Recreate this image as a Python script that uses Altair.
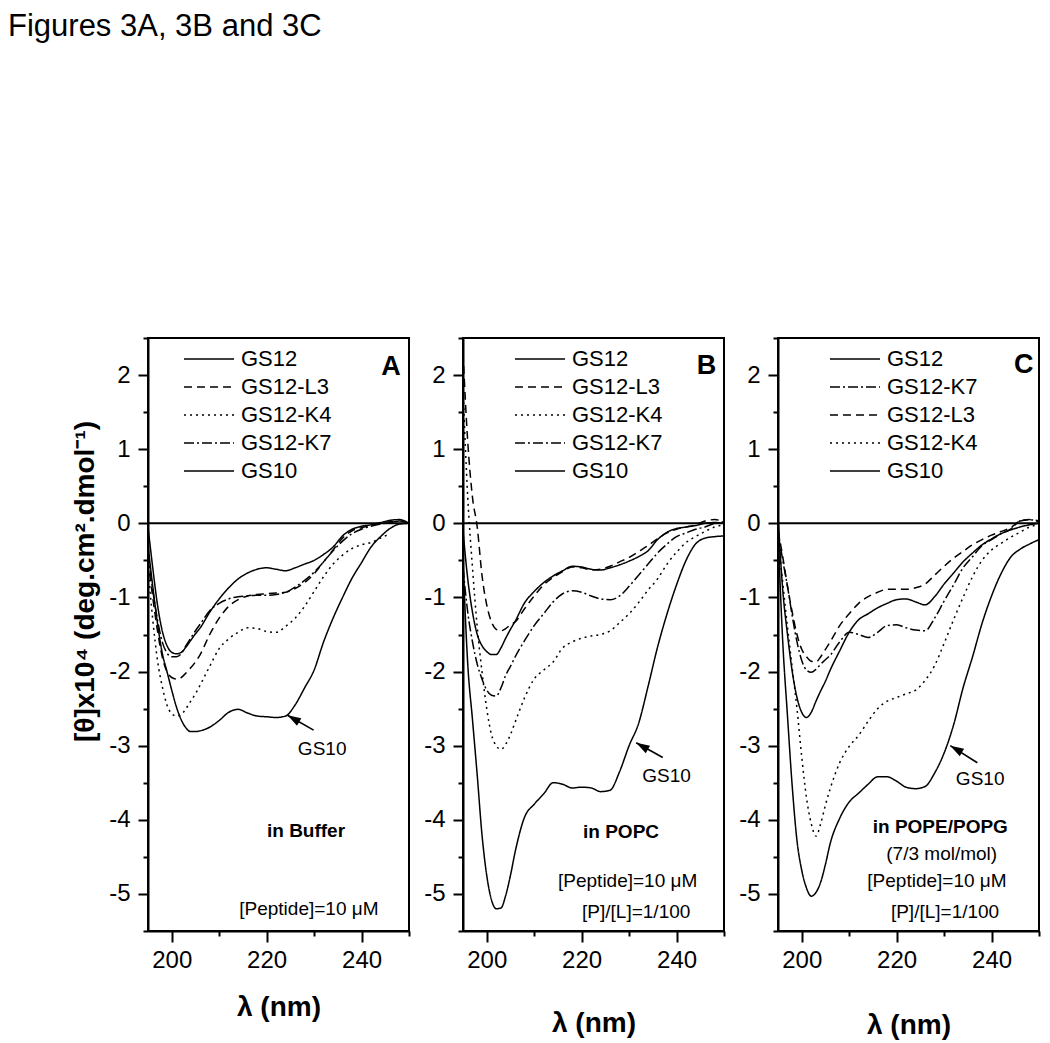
import altair as alt
import pandas as pd

FONT = "Liberation Sans"

# wavelength grid (nm) shared by all curves
WL = [195, 196, 197, 198, 199, 200, 201, 202, 203, 204, 205, 206, 208, 210, 212, 214, 216,
      218, 220, 222, 224, 226, 228, 230, 232, 234, 236, 238, 240, 242, 244, 246, 248, 250]

# Panel A: in Buffer
A_GS12 = [-0.05, -0.6, -1.1, -1.45, -1.65, -1.74, -1.76, -1.74, -1.67, -1.58, -1.49, -1.41,
          -1.2, -1.02, -0.87, -0.75, -0.67, -0.62, -0.6, -0.62, -0.64, -0.6, -0.55, -0.5, -0.42,
          -0.32, -0.17, -0.08, -0.04, -0.02, 0.01, 0.04, 0.05, 0.0]
A_L3 = [-0.5, -1.0, -1.45, -1.8, -2.0, -2.08, -2.1, -2.08, -2.02, -1.95, -1.87, -1.77,
        -1.5, -1.28, -1.12, -1.03, -0.98, -0.96, -0.95, -0.94, -0.93, -0.88, -0.8, -0.68, -0.52,
        -0.36, -0.2, -0.1, -0.06, -0.03, 0.0, 0.02, 0.03, 0.0]
A_K4 = [-0.6, -1.3, -1.85, -2.2, -2.45, -2.57, -2.6, -2.58, -2.5, -2.4, -2.3, -2.18,
        -1.93, -1.69, -1.56, -1.47, -1.41, -1.42, -1.46, -1.47, -1.39, -1.28, -1.12, -0.92, -0.72,
        -0.55, -0.43, -0.34, -0.29, -0.26, -0.2, -0.14, None, None]
A_K7 = [-0.4, -0.9, -1.3, -1.6, -1.75, -1.8, -1.8, -1.76, -1.65, -1.55, -1.45, -1.36,
        -1.18, -1.08, -1.02, -0.99, -0.98, -0.97, -0.97, -0.96, -0.93, -0.86, -0.77, -0.66, -0.52,
        -0.37, -0.24, -0.14, -0.08, -0.04, -0.01, 0.01, 0.03, 0.0]
A_GS10 = [-0.3, -0.85, -1.35, -1.75, -2.0, -2.25, -2.48, -2.65, -2.76, -2.81, -2.81, -2.8,
          -2.75, -2.66, -2.55, -2.51, -2.56, -2.6, -2.61, -2.62, -2.6, -2.45, -2.22, -1.98, -1.6,
          -1.28, -1.0, -0.74, -0.53, -0.32, -0.18, -0.07, -0.01, 0.0]

# Panel B: in POPC
B_GS12 = [-0.1, -0.75, -1.2, -1.5, -1.65, -1.73, -1.77, -1.77, -1.68, -1.55, -1.43, -1.32,
          -1.07, -0.92, -0.8, -0.71, -0.64, -0.58, -0.59, -0.62, -0.63, -0.6, -0.56, -0.51, -0.45,
          -0.37, -0.22, -0.12, -0.07, -0.05, -0.03, 0.0, 0.01, 0.0]
B_L3 = [2.3, 1.1, 0.35, -0.05, -0.7, -1.1, -1.33, -1.43, -1.45, -1.42, -1.37, -1.33,
        -1.15, -0.98, -0.83, -0.73, -0.65, -0.59, -0.6, -0.63, -0.62, -0.58, -0.52, -0.46, -0.38,
        -0.3, -0.21, -0.13, -0.08, -0.05, -0.02, 0.03, 0.05, 0.02]
B_K4 = [1.8, 0.35, -0.6, -1.4, -2.0, -2.5, -2.85, -3.0, -3.05, -2.98, -2.85, -2.68,
        -2.35, -2.1, -1.98, -1.87, -1.68, -1.6, -1.55, -1.52, -1.5, -1.45, -1.34, -1.22, -1.07,
        -0.9, -0.75, -0.55, -0.39, -0.26, -0.18, -0.11, -0.05, -0.02]
B_K7 = [-0.6, -1.2, -1.6, -1.9, -2.1, -2.25, -2.32, -2.33, -2.22, -2.05, -1.93, -1.8,
        -1.58, -1.38, -1.22, -1.06, -0.95, -0.91, -0.93, -0.98, -1.02, -1.03, -0.98, -0.85, -0.7,
        -0.55, -0.4, -0.28, -0.18, -0.13, -0.08, -0.05, 0.0, 0.02]
B_GS10 = [-0.5, -1.9, -2.65, -3.4, -4.2, -4.75, -5.08, -5.2, -5.19, -5.02, -4.75, -4.43,
          -3.96, -3.79, -3.65, -3.5, -3.52, -3.57, -3.56, -3.57, -3.62, -3.6, -3.35, -3.0, -2.7,
          -2.2, -1.67, -1.22, -0.83, -0.5, -0.28, -0.2, -0.18, -0.17]

# Panel C: in POPE/POPG
C_GS12 = [0.1, -0.9, -1.5, -2.0, -2.35, -2.55, -2.62, -2.55, -2.4, -2.26, -2.13, -1.98,
          -1.72, -1.47, -1.3, -1.22, -1.14, -1.08, -1.03, -1.02, -1.06, -1.1, -0.99, -0.82, -0.67,
          -0.52, -0.4, -0.29, -0.21, -0.14, -0.09, -0.05, -0.02, 0.0]
C_K7 = [-0.1, -0.5, -0.85, -1.25, -1.6, -1.85, -1.98, -2.01, -1.97, -1.9, -1.84, -1.78,
        -1.6, -1.47, -1.5, -1.54, -1.47, -1.38, -1.37, -1.41, -1.44, -1.45, -1.28, -1.05, -0.83,
        -0.6, -0.45, -0.3, -0.22, -0.14, -0.08, 0.03, 0.05, 0.02]
C_L3 = [-0.1, -0.45, -0.85, -1.2, -1.5, -1.7, -1.8, -1.86, -1.87, -1.8, -1.7, -1.6,
        -1.38, -1.22, -1.08, -0.99, -0.93, -0.89, -0.89, -0.89, -0.87, -0.82, -0.7, -0.58, -0.47,
        -0.38, -0.29, -0.22, -0.16, -0.11, -0.06, 0.03, 0.05, 0.03]
C_K4 = [-0.2, -0.8, -1.4, -1.95, -2.5, -3.15, -3.7, -4.05, -4.22, -4.05, -3.8, -3.58,
        -3.23, -3.01, -2.86, -2.67, -2.5, -2.4, -2.35, -2.3, -2.25, -2.12, -1.92, -1.62, -1.3,
        -1.0, -0.72, -0.5, -0.36, -0.27, -0.19, -0.12, -0.05, -0.02]
C_GS10 = [-0.1, -1.6, -2.6, -3.55, -4.28, -4.68, -4.92, -5.03, -4.98, -4.84, -4.6, -4.32,
          -3.98, -3.76, -3.64, -3.52, -3.42, -3.42, -3.48, -3.56, -3.58, -3.55, -3.37, -3.1, -2.72,
          -2.22, -1.8, -1.35, -0.98, -0.68, -0.46, -0.35, -0.28, -0.22]

ORDER_AB = ["GS12", "GS12-L3", "GS12-K4", "GS12-K7", "GS10"]
ORDER_C = ["GS12", "GS12-K7", "GS12-L3", "GS12-K4", "GS10"]
DASHES = {"GS12": [1, 0], "GS12-L3": [8, 5], "GS12-K4": [2, 4],
          "GS12-K7": [10, 3, 2, 3], "GS10": [1, 0]}

X_TICKS = [200, 210, 220, 230, 240, 250]
Y_TICKS = [-5.5, -5, -4.5, -4, -3.5, -3, -2.5, -2, -1.5, -1, -0.5, 0, 0.5, 1, 1.5, 2, 2.5]

# annotations (in data units): arrow tail -> tip, labels
NOTES_A = [("GS10", 231.7, -3.04), ("[Peptide]=10 μM", 228.9, -5.2)]
BOLD_A = [("in Buffer", 228.3, -4.15)]
ARROW_A = (229.9, -2.79, 224.4, -2.59)
LETTER_A = ("A", 246.2, 2.11)

NOTES_B = [("GS10", 237.9, -3.41), ("[Peptide]=10 μM", 229.7, -4.83), ("[P]/[L]=1/100", 231.5, -5.25)]
BOLD_B = [("in POPC", 228.3, -4.17)]
ARROW_B = (237.1, -3.16, 231.5, -2.96)
LETTER_B = ("B", 246.3, 2.12)

NOTES_C = [("GS10", 237.6, -3.45), ("(7/3 mol/mol)", 229.5, -4.46),
           ("[Peptide]=10 μM", 228.5, -4.83), ("[P]/[L]=1/100", 230.2, -5.25)]
BOLD_C = [("in POPE/POPG", 229.2, -4.10)]
ARROW_C = (237.0, -3.23, 231.3, -3.0)
LETTER_C = ("C", 246.8, 2.13)

YTITLE = "[θ]x10⁴ (deg.cm².dmol⁻¹)"


def panel(curves, order, notes, bold, arrow, letter, legend_x, ytitle, xpad):
    rows = []
    for name in order:
        for w, v in zip(WL, curves[name]):
            if v is not None:
                rows.append({"wl": w, "theta": v, "series": name})
    df = pd.DataFrame(rows)

    xs = alt.Scale(domain=[195, 250], nice=False, zero=False)
    ys = alt.Scale(domain=[-5.5, 2.5], nice=False, zero=False)
    x_axis = alt.Axis(
        values=X_TICKS,
        labelExpr="datum.value % 20 === 0 ? toString(datum.value) : ''",
        tickSize={"condition": {"test": "datum.value % 20 === 0", "value": 11}, "value": 5},
        title="λ (nm)", titlePadding=xpad, grid=False,
    )
    ykw = dict(
        values=Y_TICKS,
        labelExpr="datum.value % 1 === 0 ? toString(datum.value) : ''",
        tickSize={"condition": {"test": "datum.value % 1 === 0", "value": 10}, "value": 5},
        grid=False,
    )
    if ytitle:
        y_axis = alt.Axis(title=ytitle, titleX=-63, titleY=243, titleBaseline="middle", **ykw)
    else:
        y_axis = alt.Axis(title=None, **ykw)

    X = alt.X("wl:Q", scale=xs, axis=x_axis)
    Y = alt.Y("theta:Q", scale=ys, axis=y_axis)

    zero = alt.Chart(pd.DataFrame({"theta": [0.0]})).mark_rule(
        color="black", strokeWidth=2).encode(y=Y)

    lines = alt.Chart(df).mark_line(
        color="black", strokeWidth=1.5, interpolate="monotone", clip=True
    ).encode(
        x=X, y=Y,
        strokeDash=alt.StrokeDash(
            "series:N",
            scale=alt.Scale(domain=order, range=[DASHES[s] for s in order]),
            legend=alt.Legend(
                title=None, orient="none", legendX=legend_x, legendY=10,
                symbolType="M-2.5,0H2.5", symbolSize=400, symbolStrokeWidth=1.5,
                symbolStrokeColor="black", symbolFillColor="transparent",
                labelFont=FONT, labelFontSize=22, labelColor="black",
                labelOffset=21, rowPadding=6, padding=0,
            ),
        ),
    )

    arr = pd.DataFrame({"wl": [arrow[0]], "theta": [arrow[1]],
                        "wl2": [arrow[2]], "theta2": [arrow[3]]})
    shaft = alt.Chart(arr).mark_rule(color="black", strokeWidth=1.6).encode(
        x=X, y=Y, x2="wl2:Q", y2="theta2:Q")
    tip = pd.DataFrame({"wl": [arrow[2]], "theta": [arrow[3]]})
    head = alt.Chart(tip).mark_point(
        shape="M0,0L-0.7,2.2L0.7,2.2Z", filled=True, color="black",
        size=150, angle=300, opacity=1).encode(x=X, y=Y)

    ndf = pd.DataFrame(notes, columns=["text", "wl", "theta"])
    reg = alt.Chart(ndf).mark_text(
        font=FONT, fontSize=19, color="black", align="center", baseline="middle"
    ).encode(x=X, y=Y, text="text:N")
    bdf = pd.DataFrame(bold, columns=["text", "wl", "theta"])
    bld = alt.Chart(bdf).mark_text(
        font=FONT, fontSize=19, fontWeight="bold", color="black",
        align="center", baseline="middle"
    ).encode(x=X, y=Y, text="text:N")
    ldf = pd.DataFrame([letter], columns=["text", "wl", "theta"])
    let = alt.Chart(ldf).mark_text(
        font=FONT, fontSize=27, fontWeight="bold", color="black",
        align="center", baseline="middle"
    ).encode(x=X, y=Y, text="text:N")

    return alt.layer(zero, lines, shaft, head, reg, bld, let).properties(width=261, height=593)


pa = panel({"GS12": A_GS12, "GS12-L3": A_L3, "GS12-K4": A_K4, "GS12-K7": A_K7, "GS10": A_GS10},
           ORDER_AB, NOTES_A, BOLD_A, ARROW_A, LETTER_A, 50, YTITLE, 21)
pb = panel({"GS12": B_GS12, "GS12-L3": B_L3, "GS12-K4": B_K4, "GS12-K7": B_K7, "GS10": B_GS10},
           ORDER_AB, NOTES_B, BOLD_B, ARROW_B, LETTER_B, 66, None, 37)
pc = panel({"GS12": C_GS12, "GS12-L3": C_L3, "GS12-K4": C_K4, "GS12-K7": C_K7, "GS10": C_GS10},
           ORDER_C, NOTES_C, BOLD_C, ARROW_C, LETTER_C, 66, None, 39)

chart = alt.hconcat(pa, pb, pc, spacing=11).resolve_scale(
    x="independent", y="independent", strokeDash="independent"
).resolve_axis(x="independent", y="independent").resolve_legend(
    strokeDash="independent"
).properties(
    title=alt.TitleParams("Figures 3A, 3B and 3C", anchor="start", font=FONT, fontSize=31,
                          fontWeight="normal", color="black", offset=293, dx=-62),
    padding={"left": 0, "top": 3, "right": 0, "bottom": 0},
    background="white",
).configure_view(
    stroke="black", strokeWidth=2
).configure_axis(
    domainColor="black", domainWidth=2, tickColor="black", tickWidth=2,
    labelFont=FONT, labelFontSize=24, labelColor="black",
    titleFont=FONT, titleFontSize=28, titleFontWeight="bold", titleColor="black",
).configure_axisX(labelPadding=6).configure_axisY(labelPadding=8)

chart.save("out.html", embed_options={"renderer": "svg", "actions": False})
